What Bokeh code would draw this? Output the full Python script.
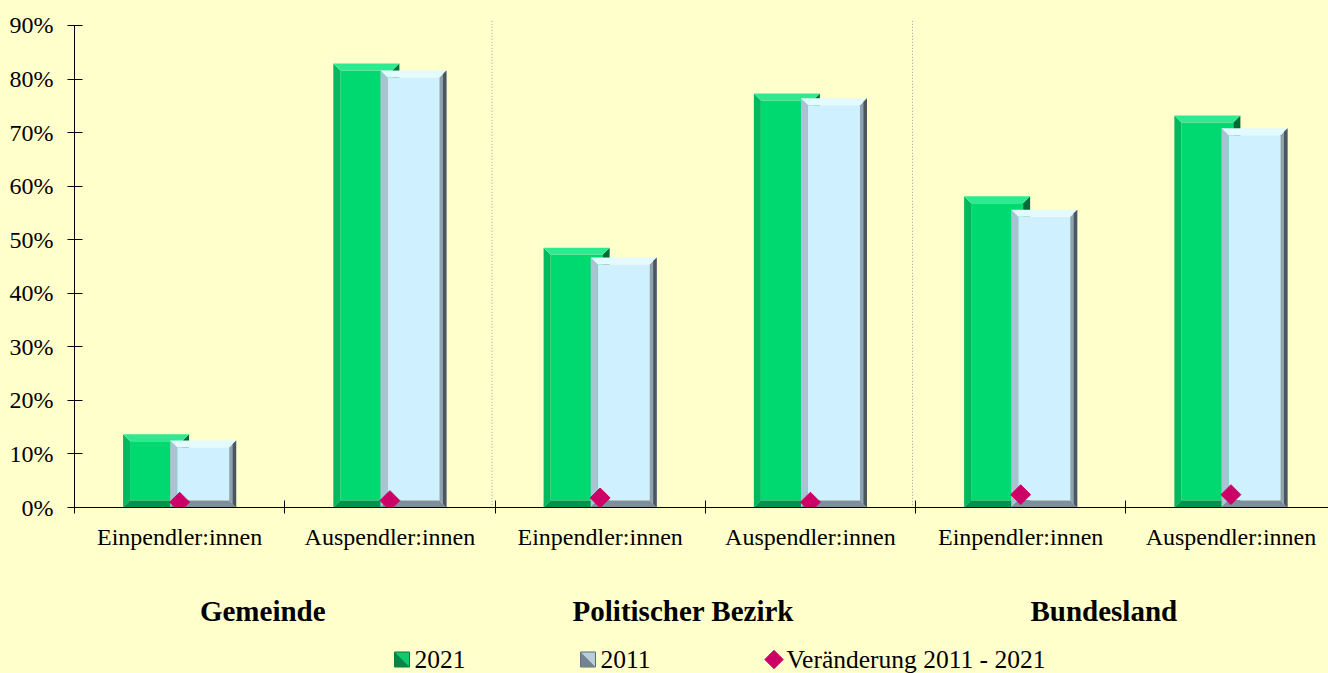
import math
from bokeh.plotting import figure
from bokeh.models import FixedTicker, LinearAxis, Range1d
from bokeh.layouts import column
from bokeh.embed import file_html
from bokeh.resources import INLINE
from bokeh.core.properties import value

# ---------------- data ----------------
groups = ["Gemeinde", "Politischer Bezirk", "Bundesland"]
categories = ["Einpendler:innen", "Auspendler:innen",
              "Einpendler:innen", "Auspendler:innen",
              "Einpendler:innen", "Auspendler:innen"]
share_2021 = [13.7, 82.9, 48.5, 77.3, 58.1, 73.2]
share_2011 = [12.5, 81.6, 46.7, 76.4, 55.6, 70.8]
change_11_21 = [1.0, 1.3, 1.8, 1.0, 2.4, 2.4]
y_ticks = [0, 10, 20, 30, 40, 50, 60, 70, 80, 90]
y_tick_labels = ["0%", "10%", "20%", "30%", "40%", "50%", "60%", "70%", "80%", "90%"]
legend_labels = ["2021", "2011", "Veränderung 2011 - 2021"]

# ---------------- layout / style ----------------
BG = "#FFFFCC"
FONT = "Liberation Serif"
W, H_MAIN, H_LEG = 1328, 630, 43
LEFT, TOP, BOTTOM = 74, 20, 123
X_END = 5.964
Y_END = 90.93
PX_X = (W - LEFT) / X_END
PX_Y = (H_MAIN - TOP - BOTTOM) / Y_END
BAR_W = 0.314
BAR_OFF = 0.112
BEVEL = 7.0
GROUP_LABEL_SHIFT = 22.0 / PX_X
SEP_SHIFT = 3.0 / PX_X

n = len(categories)
centers = [i + 0.5 for i in range(n)]
boundaries = [float(i) for i in range(n + 1)]

p = figure(width=W, height=H_MAIN, x_range=Range1d(0, X_END), y_range=Range1d(0, Y_END),
           output_backend="svg", toolbar_location=None,
           x_axis_location=None, y_axis_location=None,
           min_border_left=LEFT, min_border_right=0, min_border_top=TOP, min_border_bottom=BOTTOM,
           background_fill_color=BG, border_fill_color=BG, outline_line_color=None)
p.grid.visible = False

# y axis
yax = LinearAxis(ticker=FixedTicker(ticks=y_ticks, minor_ticks=[]),
                 major_label_overrides={t: l for t, l in zip(y_ticks, y_tick_labels)},
                 bounds=(0, 90),
                 axis_line_color="black", axis_line_width=1,
                 major_tick_line_color="black", major_tick_in=8, major_tick_out=7,
                 minor_tick_line_color=None,
                 major_label_standoff=14,
                 major_label_text_font=FONT, major_label_text_font_size="24px",
                 major_label_text_color="black")
p.add_layout(yax, "left")

# x axis: category labels at centres, tick marks at boundaries
xax = LinearAxis(ticker=FixedTicker(ticks=centers, minor_ticks=boundaries),
                 major_label_overrides={c: l for c, l in zip(centers, categories)},
                 axis_line_color="black", axis_line_width=1,
                 major_tick_line_color=None, major_tick_in=0, major_tick_out=0,
                 minor_tick_line_color="black", minor_tick_in=7, minor_tick_out=6,
                 major_label_standoff=10,
                 major_label_text_font=FONT, major_label_text_font_size="24px",
                 major_label_text_color="black")
p.add_layout(xax, "below")

# group axis
p.extra_x_ranges = {"grp": Range1d(GROUP_LABEL_SHIFT, X_END + GROUP_LABEL_SHIFT)}
group_pos = [2 * g + 1 for g in range(len(groups))]
gax = LinearAxis(x_range_name="grp", ticker=FixedTicker(ticks=group_pos, minor_ticks=[]),
                 major_label_overrides={g: l for g, l in zip(group_pos, groups)},
                 axis_line_color=None, major_tick_line_color=None, minor_tick_line_color=None,
                 major_tick_in=0, major_tick_out=0,
                 major_label_standoff=42,
                 major_label_text_font=FONT, major_label_text_font_size="29px",
                 major_label_text_font_style="bold", major_label_text_color="black")
p.add_layout(gax, "below")


def bevel_faces(xcs, tops, w, b_px):
    bx = b_px / PX_X
    by = b_px / PX_Y
    faces = {"top": ([], []), "bottom": ([], []), "left": ([], []), "right": ([], []),
             "face": ([], [], [], [])}
    for xc, t in zip(xcs, tops):
        x0, x1 = xc - w / 2, xc + w / 2
        faces["top"][0].append([x0, x1, x1 - bx, x0 + bx])
        faces["top"][1].append([t, t, t - by, t - by])
        faces["bottom"][0].append([x0, x1, x1 - bx, x0 + bx])
        faces["bottom"][1].append([0, 0, by, by])
        faces["left"][0].append([x0, x0, x0 + bx, x0 + bx])
        faces["left"][1].append([0, t, t - by, by])
        faces["right"][0].append([x1, x1, x1 - bx, x1 - bx])
        faces["right"][1].append([0, t, t - by, by])
        faces["face"][0].append(x0 + bx)
        faces["face"][1].append(x1 - bx)
        faces["face"][2].append(by)
        faces["face"][3].append(t - by)
    return faces


def draw_bar(xcs, tops, colors, edge_strip=None):
    f = bevel_faces(xcs, tops, BAR_W, BEVEL)
    p.quad(left=f["face"][0], right=f["face"][1], bottom=f["face"][2], top=f["face"][3],
           fill_color=colors["face"], line_color=None)
    for side in ("left", "right", "bottom", "top"):
        p.patches(xs=f[side][0], ys=f[side][1], fill_color=colors[side], line_color=None)
    if edge_strip is not None:
        s = bevel_faces(xcs, tops, BAR_W, edge_strip[0])
        p.patches(xs=s["right"][0], ys=s["right"][1], fill_color=edge_strip[1], line_color=None)


green = {"face": "#00D870", "top": "#2FE991", "left": "#00B95F", "right": "#006B36",
         "bottom": "#00934B"}
blue = {"face": "#CFF0FF", "top": "#E3FAFF", "left": "#A9C3D3", "right": "#8EA3B2",
        "bottom": "#7E8E9A"}

draw_bar([c - BAR_OFF for c in centers], share_2021, green)
draw_bar([c + BAR_OFF for c in centers], share_2011, blue, edge_strip=(3.5, "#4B565E"))

# group separators
seps = [2.0 - SEP_SHIFT, 4.0 - SEP_SHIFT]
p.segment(x0=seps, y0=[0.5] * 2, x1=seps, y1=[Y_END] * 2,
          line_color="#9A9A9A", line_width=1, line_dash="1 2")

# change markers
p.scatter(x=centers, y=change_11_21, marker="square", angle=math.pi / 4, size=14,
          fill_color="#CC0066", line_color="#CC0066")

# ---------------- legend strip ----------------
# the column layout aligns this frame with the main frame (LEFT .. W), so map data x = page x
lg = figure(width=W, height=H_LEG, x_range=Range1d(LEFT, W), y_range=Range1d(0, H_LEG),
            output_backend="svg", toolbar_location=None,
            x_axis_location=None, y_axis_location=None, min_border=0,
            background_fill_color=BG, border_fill_color=BG, outline_line_color=None)
lg.grid.visible = False

LEG_X0, LEG_STEP, ICON, MID = 394, 186, 15, 14
icon_x = [LEG_X0 + i * LEG_STEP for i in range(3)]
# 2021 icon
lg.quad(left=[icon_x[0]], right=[icon_x[0] + ICON], bottom=[MID - ICON / 2], top=[MID + ICON / 2],
        fill_color="#12C96C", line_color="#0A7A40")
lg.patches(xs=[[icon_x[0], icon_x[0] + ICON, icon_x[0]]],
           ys=[[MID - ICON / 2, MID - ICON / 2, MID + ICON / 2]],
           fill_color="#0A8446", line_color=None)
# 2011 icon
lg.quad(left=[icon_x[1]], right=[icon_x[1] + ICON], bottom=[MID - ICON / 2], top=[MID + ICON / 2],
        fill_color="#B9CDDB", line_color="#5B6B76")
lg.patches(xs=[[icon_x[1], icon_x[1] + ICON, icon_x[1]]],
           ys=[[MID - ICON / 2, MID - ICON / 2, MID + ICON / 2]],
           fill_color="#72838F", line_color=None)
# diamond
lg.scatter(x=[icon_x[2] + ICON / 2], y=[MID], marker="square", angle=math.pi / 4, size=13,
           fill_color="#CC0066", line_color="#CC0066")
lg.text(x=[x + ICON + 5 for x in icon_x], y=[MID] * 3, text=legend_labels,
        text_font=value(FONT), text_font_size=value("25.5px"), text_color="black",
        text_align="left", text_baseline="middle")

layout = column(p, lg, spacing=0, styles={"background-color": BG})
html = file_html(layout, INLINE)
html = html.replace("</head>", "<style>html, body { background-color: #FFFFCC; }</style></head>", 1)
open("out.html", "w").write(html)
